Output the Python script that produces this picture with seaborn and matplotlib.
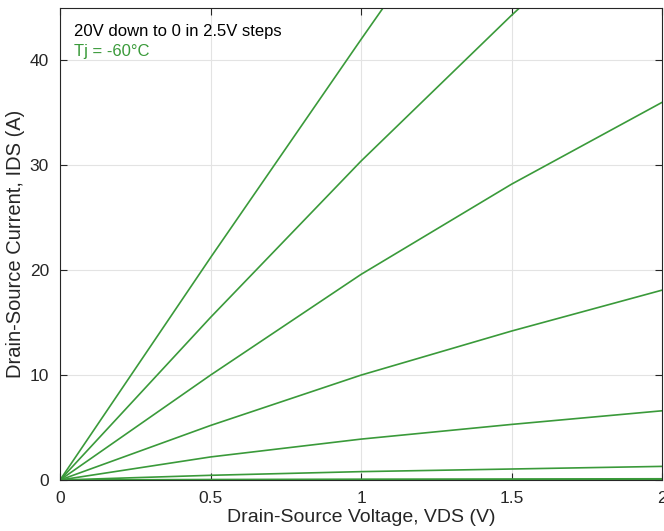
import matplotlib

matplotlib.use("Agg")

import matplotlib.pyplot as plt
import pandas as pd
import seaborn as sns

sns.set_theme(style="whitegrid")
plt.rcParams["font.family"] = ["Liberation Sans", "DejaVu Sans"]

# drain-source voltage sample points (V)
vds = [0.0, 0.5, 1.0, 1.5, 2.0]

# gate voltage steps (V), 20 down to 0
vgs = [20.0, 17.5, 15.0, 12.5, 10.0, 7.5, 5.0, 2.5, 0.0]

# drain current (A), one list per gate step
ids_20 = [0.0, 21.2, 42.0, 62.5, 83.0]
ids_175 = [0.0, 15.5, 30.4, 44.3, 57.5]
ids_15 = [0.0, 10.0, 19.6, 28.2, 36.0]
ids_125 = [0.0, 5.2, 10.0, 14.2, 18.1]
ids_10 = [0.0, 2.2, 3.9, 5.3, 6.6]
ids_75 = [0.0, 0.45, 0.8, 1.05, 1.3]
ids_5 = [0.0, 0.05, 0.08, 0.1, 0.12]
ids_25 = [0.0, 0.01, 0.02, 0.02, 0.03]
ids_0 = [0.0, 0.0, 0.0, 0.0, 0.0]

curves = [ids_20, ids_175, ids_15, ids_125, ids_10, ids_75, ids_5, ids_25, ids_0]

rows = []
for vg, ids in zip(vgs, curves):
    for v, i in zip(vds, ids):
        rows.append({"VDS": v, "IDS": i, "VGS": vg})
df = pd.DataFrame(rows)

green = "#3a9a3a"
axis_col = "#262626"

fig = plt.figure(figsize=(6.64, 5.31), dpi=100)
ax = fig.add_axes([0.0904, 0.096, 0.9066, 0.889])

sns.lineplot(
    df,
    x="VDS",
    y="IDS",
    units="VGS",
    estimator=None,
    color=green,
    linewidth=1.2,
    ax=ax,
    legend=False,
)

ax.set_xlim(0, 2)
ax.set_ylim(0, 45)
ax.set_xticks([0, 0.5, 1, 1.5, 2])
ax.set_xticklabels(["0", "0.5", "1", "1.5", "2"])
ax.set_yticks([0, 10, 20, 30, 40])

ax.set_facecolor("white")
ax.grid(True, color="#e3e3e3", linewidth=0.8)
for side in ["left", "bottom", "top", "right"]:
    ax.spines[side].set_visible(True)
    ax.spines[side].set_color(axis_col)
    ax.spines[side].set_linewidth(0.8)
ax.tick_params(
    direction="in",
    length=5,
    width=0.8,
    colors=axis_col,
    labelsize=12.5,
    top=True,
    right=True,
    bottom=True,
    left=True,
    pad=8,
)

ax.set_xlabel("Drain-Source Voltage, VDS (V)", fontsize=14, color=axis_col, labelpad=2)
ax.set_ylabel("Drain-Source Current, IDS (A)", fontsize=14.5, color=axis_col, labelpad=3)

ax.text(0.023, 0.951, "20V down to 0 in 2.5V steps", transform=ax.transAxes,
        fontsize=12, color="black", va="center", ha="left")
ax.text(0.023, 0.908, "Tj = -60°C", transform=ax.transAxes,
        fontsize=12, color=green, va="center", ha="left")

fig.savefig("out.png", dpi=100)
plt.close(fig)
